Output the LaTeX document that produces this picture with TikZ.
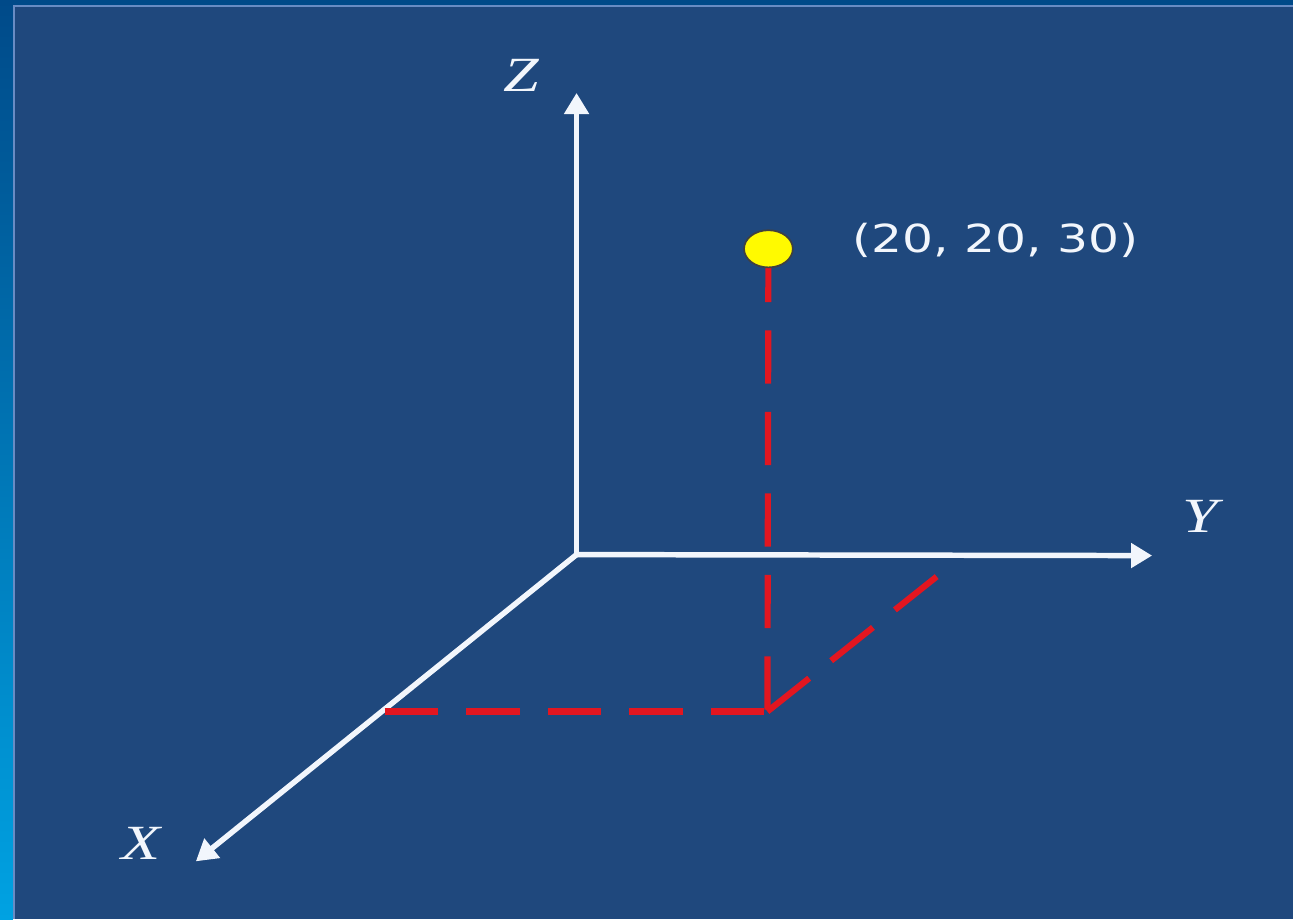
\documentclass[tikz,border=0pt]{standalone}
\usepackage{fontspec}
\setmainfont{Liberation Serif}
\newfontfamily\coordfont{DejaVu Sans}
\usepackage{graphicx}
\usetikzlibrary{arrows.meta,shapes.geometric}
\definecolor{panelblue}{RGB}{31,72,125}
\definecolor{stripblue}{RGB}{0,74,137}
\definecolor{stripcyan}{RGB}{0,162,226}
\definecolor{rimblue}{RGB}{104,140,196}
\definecolor{axiswhite}{RGB}{242,246,252}
\definecolor{projred}{RGB}{226,22,32}
\definecolor{dotyellow}{RGB}{255,250,0}
\begin{document}
\begin{tikzpicture}[x=0.025cm,y=-0.025cm,
  axis/.style={draw=axiswhite, line width=3.9pt, -{Triangle[length=15pt,width=17pt]}},
  proj/.style={draw=projred, line width=4.4pt, dash pattern=on 38pt off 20pt},
  axlabel/.style={text=axiswhite, font=\fontsize{35}{40}\selectfont\itshape, inner sep=0pt, anchor=base},
  dot/.style={ellipse, fill=dotyellow, draw=black!75, line width=1.2pt, minimum width=1.22cm, minimum height=0.93cm, inner sep=0pt}]
  % background
  \fill[stripblue] (0,0) rectangle (1294,920);
  \shade[top color=stripblue, bottom color=stripcyan] (0,0) rectangle (13,920);
  \fill[panelblue] (13,5) rectangle (1294,920);
  \draw[rimblue, line width=1.4pt] (14,920) -- (14,6) -- (1294,6);
  % axes
  \coordinate (O) at (577,555);
  \coordinate (Ztip) at (577,93);
  \coordinate (Ytip) at (1153,556);
  \coordinate (Xtip) at (196,862);
  \draw[axis] (O) -- (Ztip);
  \draw[axis] (O) -- (Ytip);
  \draw[axis] (O) -- (Xtip);
  \node[axlabel] (Zlbl) at (522,92) {\scalebox{1.3}[1]{Z}};
  \node[axlabel] (Ylbl) at (1201,533) {\scalebox{1.3}[1]{Y}};
  \node[axlabel] (Xlbl) at (141,860) {\scalebox{1.3}[1]{X}};
  % projections of the point
  \coordinate (Pc) at (769,249);
  \coordinate (Pg) at (768,712);
  \coordinate (Px) at (385,712);
  \coordinate (Py) at (945,571);
  \draw[proj] (Pc) -- (Pg);
  \draw[proj] (Px) -- (Pg);
  \draw[proj] (Pg) -- (Py);
  \node[dot] (P) at (Pc) {};
  \node[text=axiswhite, font=\coordfont\fontsize{27.5}{30}\selectfont, inner sep=0pt, anchor=base west] (Plbl) at (853,253) {\scalebox{1.26}[1]{(20, 20, 30)}};
\end{tikzpicture}
\end{document}
